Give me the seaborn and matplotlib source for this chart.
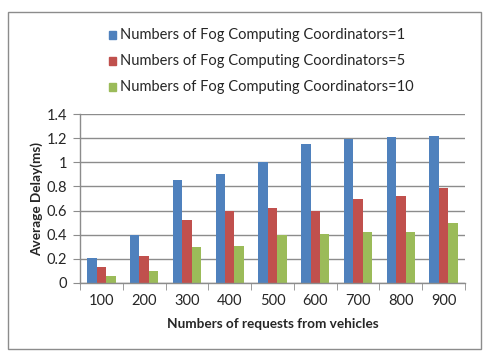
import matplotlib
matplotlib.use("Agg")
import matplotlib.pyplot as plt
import seaborn as sns
import pandas as pd
from matplotlib.patches import Rectangle

categories = ["100", "200", "300", "400", "500", "600", "700", "800", "900"]
series_names = ["Numbers of Fog Computing Coordinators=1",
                "Numbers of Fog Computing Coordinators=5",
                "Numbers of Fog Computing Coordinators=10"]
s1 = [0.21, 0.40, 0.85, 0.90, 1.00, 1.15, 1.19, 1.21, 1.22]
s5 = [0.13, 0.22, 0.52, 0.60, 0.62, 0.60, 0.70, 0.72, 0.79]
s10 = [0.06, 0.10, 0.30, 0.31, 0.40, 0.41, 0.42, 0.42, 0.50]
colors = ["#4F81BD", "#C0504D", "#9BBB59"]

rows = []
for name, vals in zip(series_names, [s1, s5, s10]):
    for c, v in zip(categories, vals):
        rows.append({"x": c, "y": v, "series": name})
df = pd.DataFrame(rows)

sns.set_style("white")
plt.rcParams['font.family'] = ['Lato', 'DejaVu Sans']

fig = plt.figure(figsize=(4.85, 3.6), dpi=100)
ax = fig.add_axes([80/485, 1-283/360, (465-80)/485, (283-114)/360])

sns.barplot(data=df, x="x", y="y", hue="series", palette=colors, ax=ax,
            width=0.66, gap=0, saturation=1, legend=False, linewidth=0)

ax.set_ylim(0, 1.4)
ax.set_yticks([0, 0.2, 0.4, 0.6, 0.8, 1.0, 1.2, 1.4])
ax.set_yticklabels(["0", "0.2", "0.4", "0.6", "0.8", "1", "1.2", "1.4"])
ax.set_xlim(-0.5, len(categories) - 0.5)
ax.yaxis.grid(True, color="#8C8C8C", linewidth=1)
ax.set_axisbelow(True)
for side in ["top", "right"]:
    ax.spines[side].set_visible(False)
for side in ["left", "bottom"]:
    ax.spines[side].set_color("#8C8C8C")
    ax.spines[side].set_linewidth(1)
ax.tick_params(axis="y", length=5, color="#8C8C8C", labelsize=10.5, pad=4, left=True)
ax.tick_params(axis="x", length=0, labelsize=10.5, pad=8)
ax.set_xticks([i - 0.5 for i in range(len(categories) + 1)], minor=True)
ax.tick_params(axis="x", which="minor", length=5, color="#8C8C8C", bottom=True)
ax.set_xlabel("Numbers of requests from vehicles", fontsize=9.8, fontweight="bold", labelpad=7)
ax.set_ylabel("Average Delay(ms)", fontsize=9.8, fontweight="bold", labelpad=3)

# legend
for i, (name, col) in enumerate(zip(series_names, colors)):
    yy = 1 - (35 + i * 26) / 360
    fig.patches.append(Rectangle((109/485, yy - 3.5/360), 7/485, 7/360,
                                 transform=fig.transFigure, color=col))
    fig.text(120/485, yy, name, fontsize=10.5, va="center", ha="left")

fig.patches.append(Rectangle((8/485, 1 - 349/360), (481-8)/485, (349-12)/360,
                             transform=fig.transFigure, fill=False,
                             edgecolor="#8C8C8C", linewidth=1))

fig.savefig("out.png", dpi=100)
